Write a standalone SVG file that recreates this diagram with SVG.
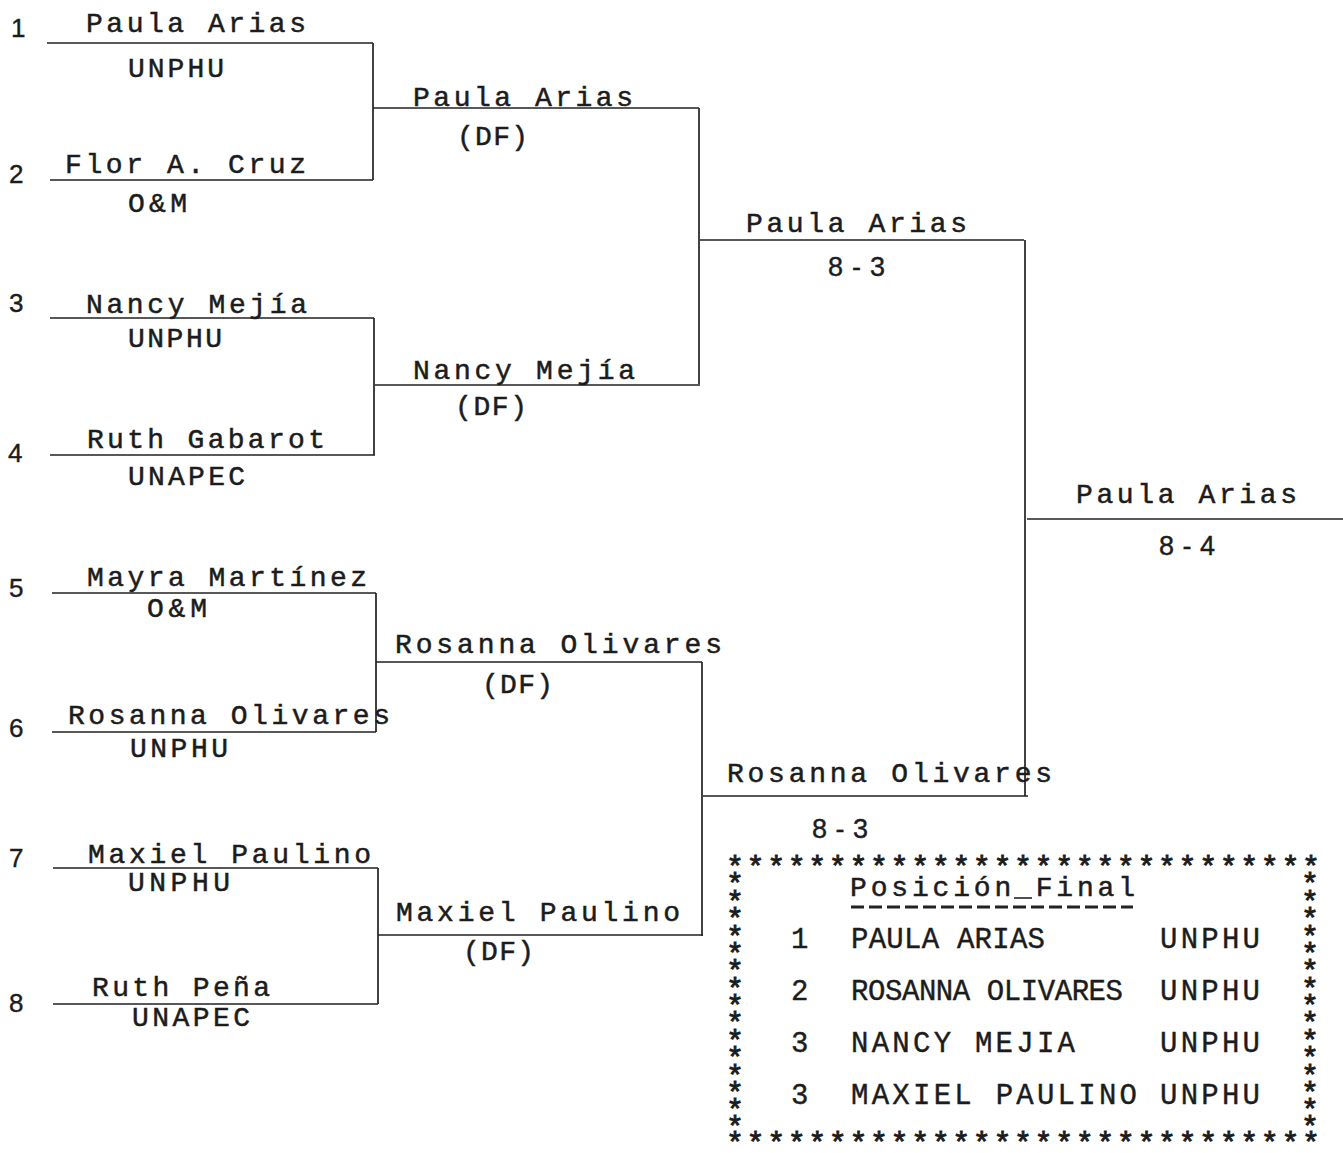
<svg xmlns="http://www.w3.org/2000/svg" width="1343" height="1153" viewBox="0 0 1343 1153">
<style>
.nm{font-family:"Liberation Mono","Courier New",monospace;font-size:28px;fill:#1c1c1c;stroke:#1c1c1c;stroke-width:0.5}
.sc{font-family:"Liberation Sans",Arial,sans-serif;font-size:27px;fill:#1c1c1c;stroke:#1c1c1c;stroke-width:0.4}
.num{font-family:"Liberation Sans",Arial,sans-serif;font-size:26px;fill:#1c1c1c;stroke:#1c1c1c;stroke-width:0.4}
.bx{font-family:"Liberation Mono","Courier New",monospace;font-size:29px;fill:#1c1c1c;stroke:#1c1c1c;stroke-width:0.4}
.st{font-family:"Liberation Mono","Courier New",monospace;font-size:30px;fill:#1c1c1c;stroke:#1c1c1c;stroke-width:0.9}
.ln{stroke:#222;stroke-width:1.7;fill:none}
</style>
<rect width="1343" height="1153" fill="#fff"/>
<g id="connectors" class="ln">
<path d="M47,43H373M50,180H373M373,43V180M373,108H699"/>
<path d="M50,318H374M50,455H375M374,318V455M375,385H700"/>
<path d="M699,108V384M700,240H1024"/>
<path d="M52,593H376M52,732H376M376,593V732M376,662H702"/>
<path d="M53,868H378M53,1004H378M378,868V1004M378,935H703"/>
<path d="M702,662V936M703,796H1028"/>
<path d="M1025,240V796M1027,519H1343"/>
</g>
<g id="seed1"><text class="num" x="11" y="37">1</text><text class="nm" x="86" y="32" textLength="220" lengthAdjust="spacing">Paula Arias</text><text class="nm" x="128" y="77" textLength="96" lengthAdjust="spacing">UNPHU</text></g>
<g id="seed2"><text class="num" x="9" y="183">2</text><text class="nm" x="65" y="173" textLength="241" lengthAdjust="spacing">Flor A. Cruz</text><text class="nm" x="128" y="212" textLength="59" lengthAdjust="spacing">O&amp;M</text></g>
<g id="seed3"><text class="num" x="9" y="312">3</text><text class="nm" x="86" y="313" textLength="221" lengthAdjust="spacing">Nancy Mejía</text><text class="nm" x="128" y="347" textLength="94" lengthAdjust="spacing">UNPHU</text></g>
<g id="seed4"><text class="num" x="8" y="462">4</text><text class="nm" x="87" y="448" textLength="238" lengthAdjust="spacing">Ruth Gabarot</text><text class="nm" x="128" y="485" textLength="117" lengthAdjust="spacing">UNAPEC</text></g>
<g id="seed5"><text class="num" x="9" y="597">5</text><text class="nm" x="87" y="586" textLength="280" lengthAdjust="spacing">Mayra Martínez</text><text class="nm" x="147" y="617" textLength="60" lengthAdjust="spacing">O&amp;M</text></g>
<g id="seed6"><text class="num" x="9" y="737">6</text><text class="nm" x="68" y="724" textLength="322" lengthAdjust="spacing">Rosanna Olivares</text><text class="nm" x="130" y="757" textLength="98" lengthAdjust="spacing">UNPHU</text></g>
<g id="seed7"><text class="num" x="9" y="867">7</text><text class="nm" x="88" y="863" textLength="283" lengthAdjust="spacing">Maxiel Paulino</text><text class="nm" x="128" y="891" textLength="102" lengthAdjust="spacing">UNPHU</text></g>
<g id="seed8"><text class="num" x="9" y="1012">8</text><text class="nm" x="92" y="996" textLength="178" lengthAdjust="spacing">Ruth Peña</text><text class="nm" x="132" y="1026" textLength="118" lengthAdjust="spacing">UNAPEC</text></g>
<g id="qf1"><text class="nm" x="413" y="106" textLength="220" lengthAdjust="spacing">Paula Arias</text><text class="nm" x="457" y="145" textLength="71" lengthAdjust="spacing">(DF)</text></g>
<g id="qf2"><text class="nm" x="413" y="379" textLength="222" lengthAdjust="spacing">Nancy Mejía</text><text class="nm" x="455" y="415" textLength="72" lengthAdjust="spacing">(DF)</text></g>
<g id="qf3"><text class="nm" x="395" y="653" textLength="327" lengthAdjust="spacing">Rosanna Olivares</text><text class="nm" x="482" y="693" textLength="71" lengthAdjust="spacing">(DF)</text></g>
<g id="qf4"><text class="nm" x="396" y="921" textLength="284" lengthAdjust="spacing">Maxiel Paulino</text><text class="nm" x="463" y="960" textLength="71" lengthAdjust="spacing">(DF)</text></g>
<g id="sf1"><text class="nm" x="746" y="232" textLength="221" lengthAdjust="spacing">Paula Arias</text><text class="sc" x="828" y="276" textLength="57" lengthAdjust="spacing">8-3</text></g>
<g id="sf2"><text class="nm" x="727" y="782" textLength="325" lengthAdjust="spacing">Rosanna Olivares</text><text class="sc" x="812" y="838" textLength="56" lengthAdjust="spacing">8-3</text></g>
<g id="final"><text class="nm" x="1076" y="503" textLength="221" lengthAdjust="spacing">Paula Arias</text><text class="sc" x="1159" y="555" textLength="56" lengthAdjust="spacing">8-4</text></g>
<g id="standings">
<text class="st" x="726" y="877" textLength="594" lengthAdjust="spacing">*****************************</text>
<text class="st" x="726" y="1153" textLength="594" lengthAdjust="spacing">*****************************</text>
<text class="st" text-anchor="middle"><tspan x="735" y="894.4">*</tspan><tspan x="735" y="911.8">*</tspan><tspan x="735" y="929.1">*</tspan><tspan x="735" y="946.5">*</tspan><tspan x="735" y="963.9">*</tspan><tspan x="735" y="981.3">*</tspan><tspan x="735" y="998.6">*</tspan><tspan x="735" y="1016">*</tspan><tspan x="735" y="1033.4">*</tspan><tspan x="735" y="1050.8">*</tspan><tspan x="735" y="1068.1">*</tspan><tspan x="735" y="1085.5">*</tspan><tspan x="735" y="1102.9">*</tspan><tspan x="735" y="1120.3">*</tspan><tspan x="735" y="1137">*</tspan></text>
<text class="st" text-anchor="middle"><tspan x="1310" y="894.4">*</tspan><tspan x="1310" y="911.8">*</tspan><tspan x="1310" y="929.1">*</tspan><tspan x="1310" y="946.5">*</tspan><tspan x="1310" y="963.9">*</tspan><tspan x="1310" y="981.3">*</tspan><tspan x="1310" y="998.6">*</tspan><tspan x="1310" y="1016">*</tspan><tspan x="1310" y="1033.4">*</tspan><tspan x="1310" y="1050.8">*</tspan><tspan x="1310" y="1068.1">*</tspan><tspan x="1310" y="1085.5">*</tspan><tspan x="1310" y="1102.9">*</tspan><tspan x="1310" y="1120.3">*</tspan><tspan x="1310" y="1137">*</tspan></text>
<text class="nm" x="850" y="896" textLength="285" lengthAdjust="spacing">Posición Final</text>
<path d="M851,907H1133" stroke="#222" stroke-width="3" stroke-dasharray="13 5"/>
<path d="M1014,898H1032" stroke="#222" stroke-width="1.6"/>
<text class="bx" x="791" y="948">1</text><text class="bx" x="851" y="948" textLength="194" lengthAdjust="spacing">PAULA ARIAS</text><text class="bx" x="1160" y="948" textLength="100" lengthAdjust="spacing">UNPHU</text>
<text class="bx" x="791" y="1000">2</text><text class="bx" x="851" y="1000" textLength="272" lengthAdjust="spacing">ROSANNA OLIVARES</text><text class="bx" x="1160" y="1000" textLength="100" lengthAdjust="spacing">UNPHU</text>
<text class="bx" x="791" y="1052">3</text><text class="bx" x="851" y="1052" textLength="224" lengthAdjust="spacing">NANCY MEJIA</text><text class="bx" x="1160" y="1052" textLength="100" lengthAdjust="spacing">UNPHU</text>
<text class="bx" x="791" y="1104">3</text><text class="bx" x="851" y="1104" textLength="286" lengthAdjust="spacing">MAXIEL PAULINO</text><text class="bx" x="1160" y="1104" textLength="100" lengthAdjust="spacing">UNPHU</text>
</g>
</svg>
